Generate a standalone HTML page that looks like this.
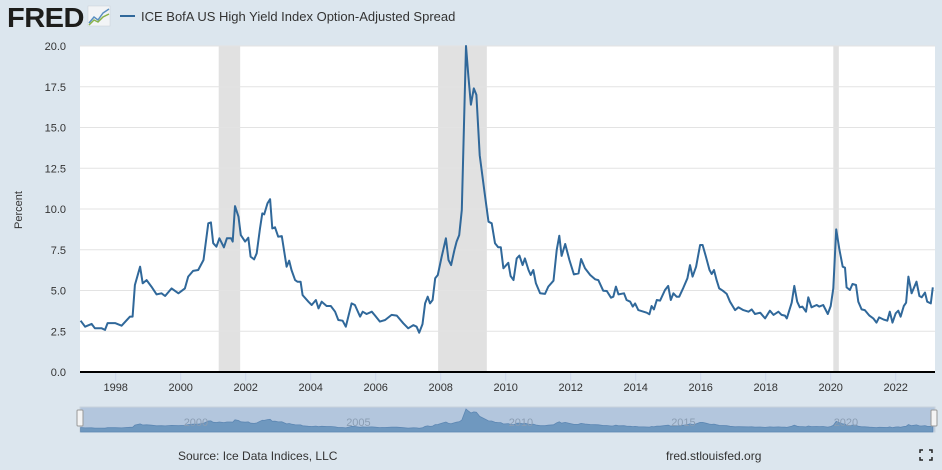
<!DOCTYPE html>
<html><head><meta charset="utf-8"><style>
body{margin:0;width:942px;height:470px;background:#dce6ee;font-family:"Liberation Sans",sans-serif;overflow:hidden}
svg{display:block}
</style></head><body>
<svg width="942" height="470">
<g>
<text x="7" y="27" font-size="28" font-weight="bold" fill="#1d1d1b" letter-spacing="-0.5" textLength="77" lengthAdjust="spacingAndGlyphs">FRED</text>
<g>
<rect x="88" y="6" width="22" height="20" fill="#f2f4f6" stroke="#c8d0d8" stroke-width="0.5"/>
<polyline points="89,23 94,17 98,20 103,13 109,9" fill="none" stroke="#5a8fc0" stroke-width="1.5"/>
<polyline points="89,25 94,20 98,22 103,17 109,14" fill="none" stroke="#8ab34a" stroke-width="1.5"/>
</g>
<line x1="120" y1="16" x2="135" y2="16" stroke="#30689a" stroke-width="2"/>
<text x="141" y="21" font-size="13" fill="#333">ICE BofA US High Yield Index Option-Adjusted Spread</text>
</g>
<rect x="80" y="46" width="855" height="326" fill="#fff"/>
<g id="rec"></g>
<g id="grid"></g>
<g id="yt"></g>
<g id="xt"></g>
<path id="line" fill="none" stroke="#30689a" stroke-width="2" stroke-linejoin="round"/>
<line x1="80" y1="372" x2="935" y2="372" stroke="#000" stroke-width="2"/>
<text x="22" y="210" font-size="11" fill="#333" text-anchor="middle" transform="rotate(-90 22 210)">Percent</text>
<g>
<rect x="80" y="407" width="855" height="25" fill="#b3c6dd" stroke="#c9d3dc"/>
<path id="nav" fill="#6f98bf" stroke="#5d87b3" stroke-width="0.8"/>
<g id="navt"></g>
<rect x="77" y="410" width="6" height="16" fill="#f4f4f4" stroke="#999" rx="1"/>
<rect x="931" y="410" width="6" height="16" fill="#f4f4f4" stroke="#999" rx="1"/>
</g>
<text x="178" y="460" font-size="12" fill="#333">Source: Ice Data Indices, LLC</text>
<text x="666" y="460" font-size="12" fill="#333">fred.stlouisfed.org</text>
<g stroke="#222" stroke-width="1.5" fill="none">
<polyline points="920,453 920,450 923,450"/><polyline points="929,450 932,450 932,453"/>
<polyline points="920,457 920,460 923,460"/><polyline points="929,460 932,460 932,457"/>
</g>
</svg>
<script>
const dates=[1996.92,1997.06,1997.26,1997.36,1997.57,1997.67,1997.75,1997.98,1998.18,1998.44,1998.52,1998.59,1998.75,1998.83,1998.95,1999.1,1999.26,1999.41,1999.52,1999.72,1999.93,2000.13,2000.23,2000.38,2000.54,2000.7,2000.85,2000.93,2001.0,2001.1,2001.19,2001.33,2001.42,2001.55,2001.6,2001.67,2001.78,2001.85,2001.98,2002.08,2002.15,2002.26,2002.34,2002.44,2002.51,2002.57,2002.67,2002.75,2002.82,2002.9,2003.0,2003.11,2003.26,2003.34,2003.41,2003.52,2003.59,2003.69,2003.75,2003.93,2004.03,2004.16,2004.24,2004.34,2004.49,2004.62,2004.75,2004.85,2004.98,2005.08,2005.26,2005.36,2005.52,2005.6,2005.72,2005.88,2005.98,2006.13,2006.29,2006.49,2006.65,2006.85,2007.0,2007.16,2007.26,2007.34,2007.44,2007.52,2007.6,2007.67,2007.75,2007.83,2007.91,2008.03,2008.16,2008.24,2008.32,2008.42,2008.49,2008.57,2008.65,2008.7,2008.78,2008.85,2008.93,2009.02,2009.1,2009.2,2009.35,2009.47,2009.57,2009.67,2009.77,2009.85,2009.93,2010.08,2010.15,2010.24,2010.34,2010.42,2010.52,2010.59,2010.7,2010.77,2010.85,2010.93,2011.06,2011.21,2011.31,2011.47,2011.57,2011.65,2011.72,2011.83,2011.96,2012.1,2012.24,2012.32,2012.44,2012.6,2012.75,2012.85,2013.0,2013.11,2013.24,2013.31,2013.39,2013.47,2013.64,2013.72,2013.83,2013.91,2013.98,2014.08,2014.24,2014.34,2014.42,2014.49,2014.56,2014.65,2014.75,2014.9,2015.0,2015.08,2015.16,2015.26,2015.34,2015.47,2015.59,2015.67,2015.75,2015.86,2015.98,2016.06,2016.16,2016.27,2016.34,2016.41,2016.49,2016.57,2016.68,2016.8,2016.9,2017.06,2017.16,2017.31,2017.47,2017.57,2017.67,2017.83,2017.98,2018.13,2018.24,2018.39,2018.49,2018.59,2018.65,2018.8,2018.88,2018.97,2019.05,2019.13,2019.24,2019.31,2019.41,2019.57,2019.65,2019.77,2019.91,2020.0,2020.08,2020.17,2020.27,2020.37,2020.44,2020.49,2020.59,2020.67,2020.78,2020.85,2020.95,2021.05,2021.19,2021.31,2021.41,2021.49,2021.62,2021.74,2021.82,2021.9,2022.0,2022.08,2022.15,2022.25,2022.32,2022.39,2022.49,2022.64,2022.73,2022.8,2022.9,2022.97,2023.08,2023.14];
const spread=[3.15,2.78,2.95,2.68,2.68,2.58,3.0,3.0,2.84,3.4,3.4,5.34,6.46,5.44,5.64,5.24,4.76,4.83,4.66,5.13,4.83,5.13,5.85,6.2,6.26,6.87,9.12,9.18,7.9,7.69,8.2,7.65,8.2,8.2,8.0,10.18,9.53,8.4,8.0,8.24,7.08,6.91,7.28,8.81,9.73,9.67,10.35,10.6,8.81,8.88,8.3,8.34,6.46,6.83,6.26,5.64,5.54,5.54,4.72,4.31,4.11,4.42,3.9,4.31,4.05,4.05,3.7,3.19,3.15,2.78,4.21,4.11,3.4,3.7,3.56,3.7,3.46,3.09,3.19,3.5,3.46,2.99,2.68,2.88,2.78,2.41,2.94,4.21,4.62,4.21,4.42,5.75,5.95,7.08,8.2,6.87,6.56,7.48,8.0,8.4,9.94,14.0,20.0,18.2,16.4,17.4,17.0,13.3,11.0,9.22,9.12,7.9,7.65,7.65,6.36,6.7,5.89,5.64,6.97,7.14,6.56,6.97,6.26,5.95,6.26,5.44,4.83,4.79,5.24,5.6,7.48,8.36,7.12,7.85,6.87,5.99,6.05,6.93,6.36,5.95,5.69,5.64,4.99,4.97,4.56,4.62,5.24,4.76,4.83,4.42,4.31,4.01,4.21,3.8,3.7,3.64,3.54,4.05,3.84,4.42,4.38,5.03,5.28,4.42,4.83,4.62,4.62,5.19,5.75,6.56,5.85,6.46,7.79,7.79,7.08,6.26,6.01,6.26,5.64,5.13,4.99,4.79,4.31,3.8,3.97,3.8,3.7,3.84,3.56,3.64,3.29,3.76,3.5,3.7,3.5,3.46,3.29,4.25,5.28,4.31,3.97,4.01,3.7,4.58,3.97,4.11,4.01,4.11,3.56,4.05,5.13,8.75,7.48,6.46,6.4,5.19,5.03,5.4,5.34,4.31,3.84,3.8,3.46,3.29,3.03,3.35,3.23,3.15,3.7,3.03,3.6,3.76,3.39,4.05,4.25,5.85,4.83,5.54,4.66,4.58,4.87,4.31,4.21,5.19];
const recStart=[2001.17,2007.92,2020.08];
const recEnd=[2001.83,2009.42,2020.25];
const yTicks=[0,2.5,5,7.5,10,12.5,15,17.5,20];
const xTicks=[1998,2000,2002,2004,2006,2008,2010,2012,2014,2016,2018,2020,2022];
const navTicks=[2000,2005,2010,2015,2020];
const NS='http://www.w3.org/2000/svg';
const X=t=>115.7+(t-1998)*32.5;
const Y=v=>372-v*16.3;
const NY=v=>431-v*1.1;
function mk(tag,parent,attrs){const e=document.createElementNS(NS,tag);for(const k in attrs)e.setAttribute(k,attrs[k]);document.getElementById(parent).appendChild(e);return e;}
for(let i=0;i<recStart.length;i++){
 const r=mk('rect','rec',{x:X(recStart[i]),y:46,width:X(recEnd[i])-X(recStart[i]),height:326,fill:'#e1e1e1'});
 
 
}
yTicks.forEach(v=>{
 if(v>0){const g=mk('line','grid',{x1:80,x2:935,y1:Y(v),y2:Y(v),stroke:'#e3e3e3','stroke-width':1});
 
 }
 const t=mk('text','yt',{x:66,y:Y(v)+4,'font-size':11,fill:'#333','text-anchor':'end'});
 t.textContent=v.toFixed(1);
 
 
});
xTicks.forEach(y=>{
 const l=mk('line','xt',{x1:X(y),x2:X(y),y1:373,y2:381,stroke:'#ccd6eb'});
 
 
 const t=mk('text','xt',{x:X(y),y:391,'font-size':11,fill:'#333','text-anchor':'middle'});
 t.textContent=y;
 
 
});
let d='';dates.forEach((t,i)=>{d+=(i?'L':'M')+X(t).toFixed(1)+','+Y(spread[i]).toFixed(1);});
document.getElementById('line').setAttribute('d',d);
let nd='M'+X(dates[0]).toFixed(1)+',432';dates.forEach((t,i)=>{nd+='L'+X(t).toFixed(1)+','+NY(spread[i]).toFixed(1);});
nd+='L'+X(dates[dates.length-1]).toFixed(1)+',432Z';
document.getElementById('nav').setAttribute('d',nd);
navTicks.forEach(y=>{
 const t=mk('text','navt',{x:X(y)+3,y:426,'font-size':11,fill:'#8a9db3'});
 t.textContent=y;
 
 
});
</script>
</body></html>
